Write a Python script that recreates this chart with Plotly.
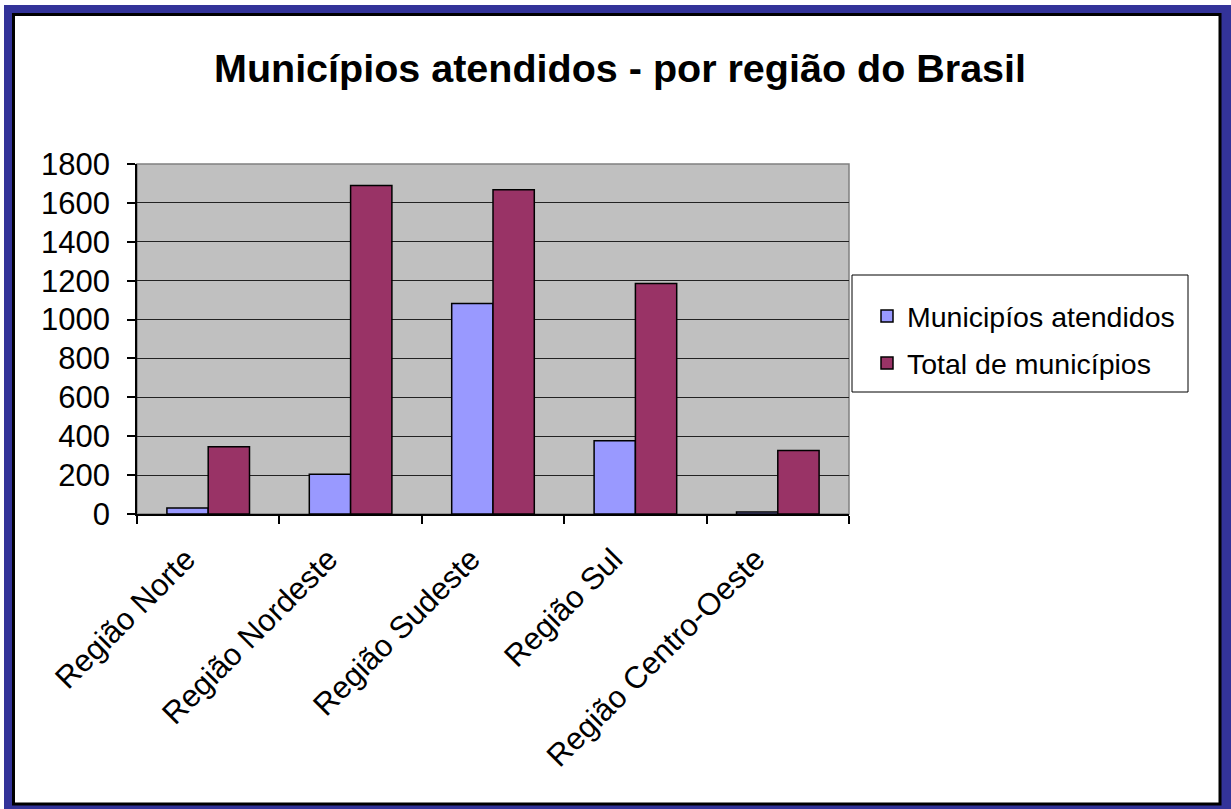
import plotly.graph_objects as go

categories = ["Região Norte", "Região Nordeste", "Região Sudeste", "Região Sul", "Região Centro-Oeste"]
atendidos = [31, 204, 1083, 377, 10]
total = [346, 1689, 1667, 1185, 326]
series_names = ["Municipíos atendidos", "Total de municípios"]
y_ticks = [0, 200, 400, 600, 800, 1000, 1200, 1400, 1600, 1800]

W, H = 1231, 809
L, R, T, B = 137, 849, 164, 514
pw, ph = R - L, B - T

def px(x):
    return (x - L) / pw

def py(y):
    return (B - y) / ph

fig = go.Figure()
fig.add_trace(go.Bar(x=categories, y=atendidos, name=series_names[0], legendgroup="a",
                     marker=dict(color="#9999FF", line=dict(color="black", width=1.5))))
fig.add_trace(go.Bar(x=categories, y=total, name=series_names[1], legendgroup="b",
                     marker=dict(color="#993366", line=dict(color="black", width=1.5))))

shapes = [
    dict(type="rect", xref="paper", yref="paper", x0=px(4), x1=px(1231), y0=py(809), y1=py(5),
         fillcolor="#333399", line=dict(width=0), layer="below"),
    dict(type="rect", xref="paper", yref="paper", x0=px(13.5), x1=px(1220), y0=py(804), y1=py(14.5),
         fillcolor="white", line=dict(color="black", width=3), layer="below"),
    dict(type="rect", xref="paper", yref="paper", x0=0, x1=1, y0=0, y1=1,
         fillcolor="#C0C0C0", line=dict(color="#808080", width=1.5), layer="below"),
    dict(type="rect", xref="paper", yref="paper", x0=px(852), x1=px(1188), y0=py(392), y1=py(275),
         fillcolor="white", line=dict(color="black", width=1), layer="below"),
]

fig.update_layout(
    width=W, height=H,
    margin=dict(l=L, r=W - R, t=T, b=H - B, pad=0),
    paper_bgcolor="white",
    plot_bgcolor="rgba(0,0,0,0)",
    font=dict(family="Liberation Sans, Arial, sans-serif", size=30, color="black"),
    title=dict(text="<b>Municípios atendidos - por região do Brasil</b>",
               x=620 / W, xanchor="center", y=1 - 68 / H, yanchor="middle",
               font=dict(size=39.5, color="black")),
    barmode="group", bargap=0.42, bargroupgap=0,
    shapes=shapes,
    showlegend=True,
    legend=dict(x=px(867), y=py(291), xanchor="left", yanchor="top",
                bgcolor="rgba(0,0,0,0)", borderwidth=0,
                font=dict(size=28.5), traceorder="grouped", tracegroupgap=7),
    xaxis=dict(showline=True, linecolor="black", linewidth=1.5, ticks="outside",
               tickson="boundaries", ticklen=8, tickcolor="black", tickwidth=1.5,
               tickangle=-45, showgrid=False, mirror=False, tickfont=dict(size=31),
               ticklabelshift=-22, ticklabelstandoff=13),
    yaxis=dict(range=[0, 1800], tickvals=y_ticks, showline=True, linecolor="black",
               linewidth=1.5, ticks="outside", ticklen=8, tickcolor="black",
               tickwidth=1.5, showgrid=True, gridcolor="#222222", gridwidth=1,
               zeroline=False, ticklabelstandoff=11, tickfont=dict(size=31)),
)

fig.write_html("out.html", config={"displayModeBar": False},
               post_script="document.body.style.margin='0';document.body.style.overflow='hidden';")
